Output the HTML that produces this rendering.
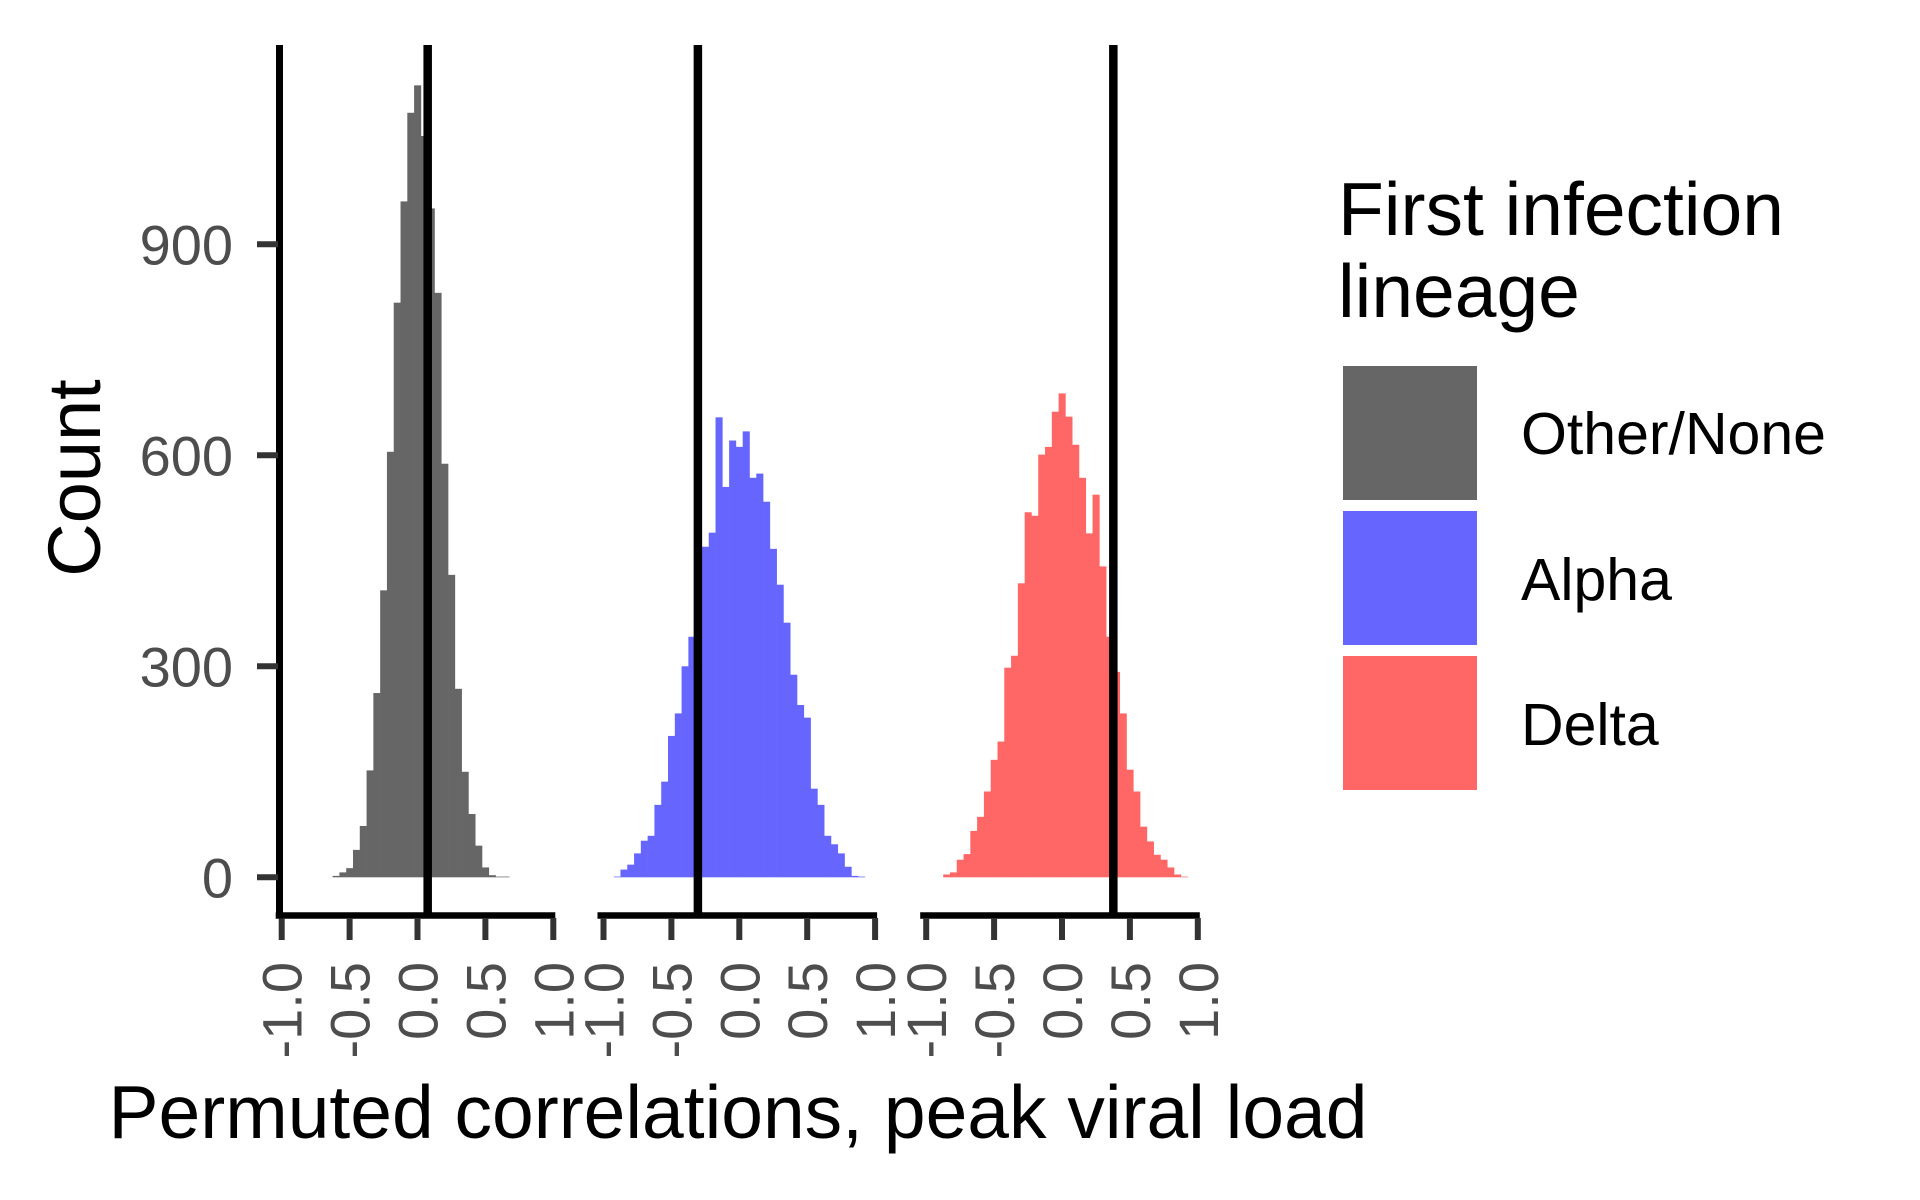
<!DOCTYPE html>
<html><head><meta charset="utf-8"><style>
html,body{margin:0;padding:0;background:#fff;}
svg{display:block;font-family:"Liberation Sans",Arial,sans-serif;}
</style></head><body>
<svg id="chart" width="1920" height="1200" viewBox="0 0 1920 1200" xmlns="http://www.w3.org/2000/svg">
<rect width="1920" height="1200" fill="#fff"/>
<g id="bars"></g>
<g id="axes"></g>
<text x="0" y="0" transform="translate(100,478) rotate(-90)" text-anchor="middle" font-size="74" fill="#000">Count</text>
<text x="738" y="1138" text-anchor="middle" font-size="75" fill="#000">Permuted correlations, peak viral load</text>
<g>
<text x="1338" y="235" font-size="75" fill="#000">First infection</text>
<text x="1338" y="317" font-size="75" fill="#000">lineage</text>
<rect x="1343" y="366" width="134" height="134" fill="#666666"/>
<rect x="1343" y="511" width="134" height="134" fill="#6666FF"/>
<rect x="1343" y="656" width="134" height="134" fill="#FF6666"/>
<text x="1521" y="454" font-size="59" fill="#000">Other/None</text>
<text x="1521" y="600" font-size="59" fill="#000">Alpha</text>
<text x="1521" y="745" font-size="59" fill="#000">Delta</text>
</g>
</svg>
<script>
const panelNames = ["Other/None", "Alpha", "Delta"];
const panelColors = ["#666666", "#6666FF", "#FF6666"];
const binWidth = 0.05;
const binStarts = [-0.625, -0.925, -0.875];
const countsOther = [2,7,13,39,73,152,262,408,605,817,961,1087,1126,1054,951,831,588,430,268,150,90,45,14,3,1,1];
const countsAlpha = [1,11,18,34,52,59,103,136,201,233,300,342,410,470,490,654,555,621,612,634,568,574,534,467,416,362,288,245,227,126,103,59,47,34,15,2,1];
const countsDelta = [4,7,25,33,66,86,122,167,193,298,315,418,519,514,601,612,662,688,655,615,568,489,544,442,342,292,233,153,122,72,51,32,25,14,4,1];
const observed = [0.075, -0.305, 0.378];
const yTicks = [0, 300, 600, 900];
const xTicks = [-1, -0.5, 0, 0.5, 1];
const xTickLabels = ["-1.0", "-0.5", "0.0", "0.5", "1.0"];
const allCounts = [countsOther, countsAlpha, countsDelta];

const NS = "http://www.w3.org/2000/svg";
const panelCenters = [417.5, 739.3, 1062];
const unitPx = 135.8;
const y0 = 877.3, pxPerCount = 211/300;
function xScale(p, v){ return panelCenters[p] + v*unitPx; }
function yScale(c){ return y0 - c*pxPerCount; }
function mk(tag, attrs, parent){ const e=document.createElementNS(NS,tag); for(const k in attrs) e.setAttribute(k, attrs[k]); parent.appendChild(e); return e; }

const barsG = document.getElementById('bars');
const axesG = document.getElementById('axes');
for(let p=0;p<3;p++){
  const counts = allCounts[p];
  for(let i=0;i<counts.length;i++){
    const v0 = binStarts[p] + i*binWidth;
    const xa = xScale(p, v0), xb = xScale(p, v0+binWidth);
    const r = mk('rect', {x:xa, y:yScale(counts[i]), width:(xb-xa)+0.3, height:yScale(0)-yScale(counts[i]), fill:panelColors[p]}, barsG);
    
    
  }
  const vx = xScale(p, observed[p]);
  const vl = mk('line', {x1:vx, x2:vx, y1:45, y2:918, stroke:'#000', 'stroke-width':8.5}, axesG);
  
  
  const ax = mk('line', {x1:xScale(p,-1)-6, x2:xScale(p,1)+2, y1:915.5, y2:915.5, stroke:'#000', 'stroke-width':6.5}, axesG);
  
  
  for(let t=0;t<xTicks.length;t++){
    const tx = xScale(p, xTicks[t]);
    const tk = mk('line', {x1:tx, x2:tx, y1:918, y2:940, stroke:'#333', 'stroke-width':6}, axesG);
    
    
    const lb = mk('text', {x:0, y:0, transform:`translate(${tx+20},962) rotate(-90)`, 'text-anchor':'end', 'font-size':56, fill:'#4d4d4d'}, axesG);
    lb.textContent = xTickLabels[t];
    
    
  }
}
const ya = mk('line', {x1:279.5, x2:279.5, y1:45, y2:918.5, stroke:'#000', 'stroke-width':7}, axesG);


for(const t of yTicks){
  const ty = yScale(t);
  const tk = mk('line', {x1:257, x2:278, y1:ty, y2:ty, stroke:'#333', 'stroke-width':6}, axesG);
  
  
  const lb = mk('text', {x:233, y:ty+20, 'text-anchor':'end', 'font-size':56, fill:'#4d4d4d'}, axesG);
  lb.textContent = String(t);
  
  
}
</script>
</body></html>
